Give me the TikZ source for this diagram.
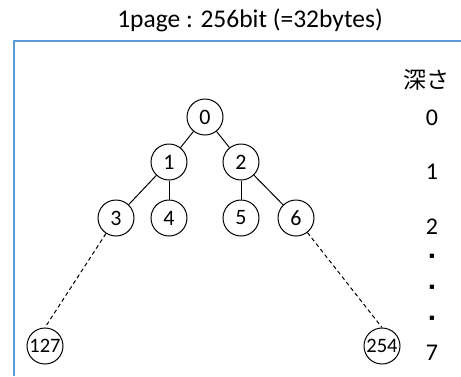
\documentclass[tikz,border=0pt]{standalone}
\usepackage{fontspec}
\setmainfont{Carlito}
\newfontfamily\jpfont{Noto Sans CJK JP}
\newfontfamily\symfont{DejaVu Sans}
\definecolor{frameblue}{RGB}{91,155,213}
\begin{document}
\begin{tikzpicture}[x=1pt,y=-1pt,
  tnode/.style={draw,circle,minimum size=36pt,inner sep=0pt,line width=1pt,font=\fontsize{22}{22}\selectfont},
  snode/.style={draw,circle,minimum size=36pt,inner sep=0pt,line width=1pt,font=\fontsize{20.5}{20.5}\selectfont},
  edge/.style={line width=1pt},
  dedge/.style={line width=1pt,dash pattern=on 4pt off 3pt},
  lbl/.style={font=\fontsize{24}{24}\selectfont,inner sep=0pt},
  dotlbl/.style={font=\symfont\fontsize{8.5}{8.5}\selectfont,inner sep=0pt}]
\useasboundingbox (0,0) rectangle (461,376);
\node[lbl,font=\fontsize{25.5}{25.5}\selectfont] (title) at (250,20) {1page : 256bit (=32bytes)};
\draw[frameblue,line width=2pt] (14,376) -- (14,41) -- (461,41);
\node[tnode] (n0) at (205,117) {0};
\node[tnode] (n1) at (169,162) {1};
\node[tnode] (n2) at (241,162) {2};
\node[tnode] (n3) at (116,218) {3};
\node[tnode] (n4) at (169,218) {4};
\node[tnode] (n5) at (241,218) {5};
\node[tnode] (n6) at (296,218) {6};
\node[snode] (n127) at (45,346) {127};
\node[snode] (n254) at (382,346) {254};
\draw[edge] (n0) -- (n1);
\draw[edge] (n0) -- (n2);
\draw[edge] (n1) -- (n3);
\draw[edge] (n1) -- (n4);
\draw[edge] (n2) -- (n5);
\draw[edge] (n2) -- (n6);
\draw[dedge] (n3) -- (n127.north);
\draw[dedge] (n6) -- (n254.north);
\node[lbl,font=\jpfont\fontsize{23}{23}\selectfont] (depth) at (426,80) {深さ};
\node[lbl] (d0) at (432,118) {0};
\node[lbl] (d1) at (432,172) {1};
\node[lbl] (d2) at (432,227) {2};
\node[dotlbl] (p1) at (432,256) {▪};
\node[dotlbl] (p2) at (432,287) {▪};
\node[dotlbl] (p3) at (432,318) {▪};
\node[lbl] (d7) at (432,353) {7};
\end{tikzpicture}
\end{document}
